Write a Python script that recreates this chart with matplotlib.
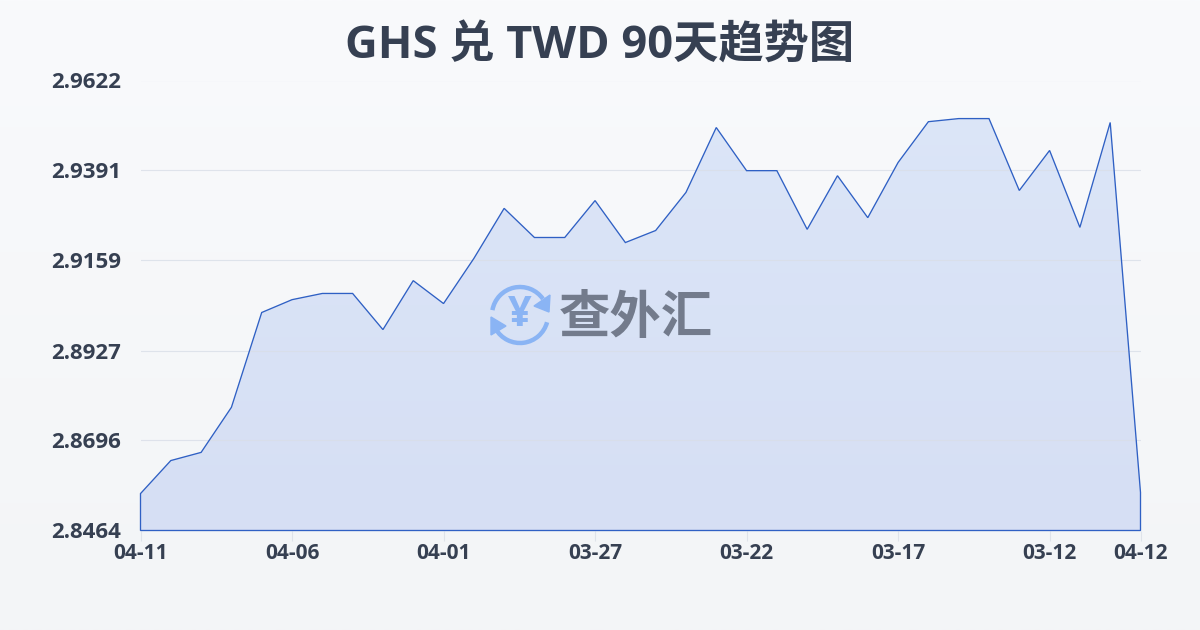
import matplotlib
matplotlib.use("Agg")
import matplotlib.pyplot as plt
import numpy as np
from matplotlib.patches import Arc, Polygon

plt.rcParams['font.family'] = ['Open Sans', 'Noto Sans CJK SC', 'DejaVu Sans']

title = "GHS 兑 TWD 90天趋势图"

# newest point is on the left, the axis runs backwards in time
rates = [2.8559, 2.8644, 2.8665, 2.8781, 2.9025, 2.9058, 2.9074, 2.9074, 2.8981,
         2.9107, 2.9048, 2.9164, 2.9293, 2.9218, 2.9218, 2.9313, 2.9205, 2.9236,
         2.9334, 2.9501, 2.9390, 2.9390, 2.9239, 2.9377, 2.9269, 2.9411, 2.9516,
         2.9524, 2.9524, 2.9339, 2.9442, 2.9244, 2.9514, 2.8562]
y_ticks = [2.8464, 2.8696, 2.8927, 2.9159, 2.9391, 2.9622]
x_tick_pos = [0, 5, 10, 15, 20, 25, 30, 33]
x_tick_labels = ["04-11", "04-06", "04-01", "03-27", "03-22", "03-17", "03-12", "04-12"]

TEXT = "#364052"

fig = plt.figure(figsize=(12, 6.3), dpi=100)

# background gradient
bg = fig.add_axes([0, 0, 1, 1], zorder=0)
bg.axis("off")
grad = np.linspace(0, 1, 256).reshape(-1, 1, 1)
top = np.array([249, 250, 252]) / 255
bottom = np.array([243, 245, 247]) / 255
bg.imshow(top + (bottom - top) * grad, aspect="auto", extent=[0, 1, 0, 1])

ax = fig.add_axes([140.5 / 1200, 99.5 / 630, 1000 / 1200, 450 / 630], zorder=1)
ax.patch.set_alpha(0)
x = np.arange(len(rates))
ax.set_xlim(0, len(rates) - 1)
ax.set_ylim(y_ticks[0], y_ticks[-1])

# area with a soft vertical gradient, clipped to the outline
verts = [(0, y_ticks[0])] + list(zip(x, rates)) + [(x[-1], y_ticks[0])]
outline = Polygon(verts, closed=True, fill=False, edgecolor="#2f60c4", linewidth=0.95, zorder=4)
fill_grad = np.linspace(0, 1, 256).reshape(-1, 1, 1)
f_top = np.array([220, 230, 248]) / 255
f_bottom = np.array([214, 223, 244]) / 255
img = ax.imshow(f_top + (f_bottom - f_top) * fill_grad, aspect="auto",
                extent=[0, x[-1], y_ticks[0], y_ticks[-1]], zorder=2)
clip = Polygon(verts, closed=True, transform=ax.transData)
img.set_clip_path(clip)
ax.add_patch(outline)
outline.set_clip_on(False)

ax.set_yticks(y_ticks)
ax.set_yticklabels(["%.4f" % v for v in y_ticks], fontsize=16, fontweight="bold", color=TEXT)
ax.set_xticks(x_tick_pos)
ax.set_xticklabels(x_tick_labels, fontsize=15, fontweight="bold", color=TEXT)
ax.grid(axis="y", color="#d9dee8", linewidth=0.8, alpha=0.8, zorder=3)
ax.set_axisbelow(False)
ax.tick_params(axis="y", length=0, pad=14)
ax.tick_params(axis="x", length=7, width=0.8, color="#dfe3ea", pad=2)
for s in ax.spines.values():
    s.set_visible(False)

fig.text(600 / 1200, 1 - 47 / 630, title, ha="center", va="center", fontsize=32.6,
         fontweight="bold", color=TEXT)

# watermark logo, pixel coordinates
logo = fig.add_axes([0, 0, 1, 1], zorder=5)
logo.set_xlim(0, 1200)
logo.set_ylim(630, 0)
logo.axis("off")
BLUE = "#8ab4f4"
cx, cy = 520, 315
logo.add_patch(Arc((cx, cy), 56, 56, theta1=190, theta2=325, color=BLUE, linewidth=3.2))
logo.add_patch(Arc((cx, cy), 56, 56, theta1=15, theta2=150, color=BLUE, linewidth=3.2))
logo.add_patch(Polygon([(534, 306), (550, 295), (549, 312)], color=BLUE))
logo.add_patch(Polygon([(491, 317), (491, 335), (506, 326)], color=BLUE))
logo.text(cx, cy + 1, "¥", ha="center", va="center", fontsize=30, fontweight="bold", color=BLUE)
logo.text(636, 320, "查外汇", ha="center", va="center", fontsize=37, fontweight="bold",
          color="#737b8c")

fig.savefig("out.png", dpi=100)
